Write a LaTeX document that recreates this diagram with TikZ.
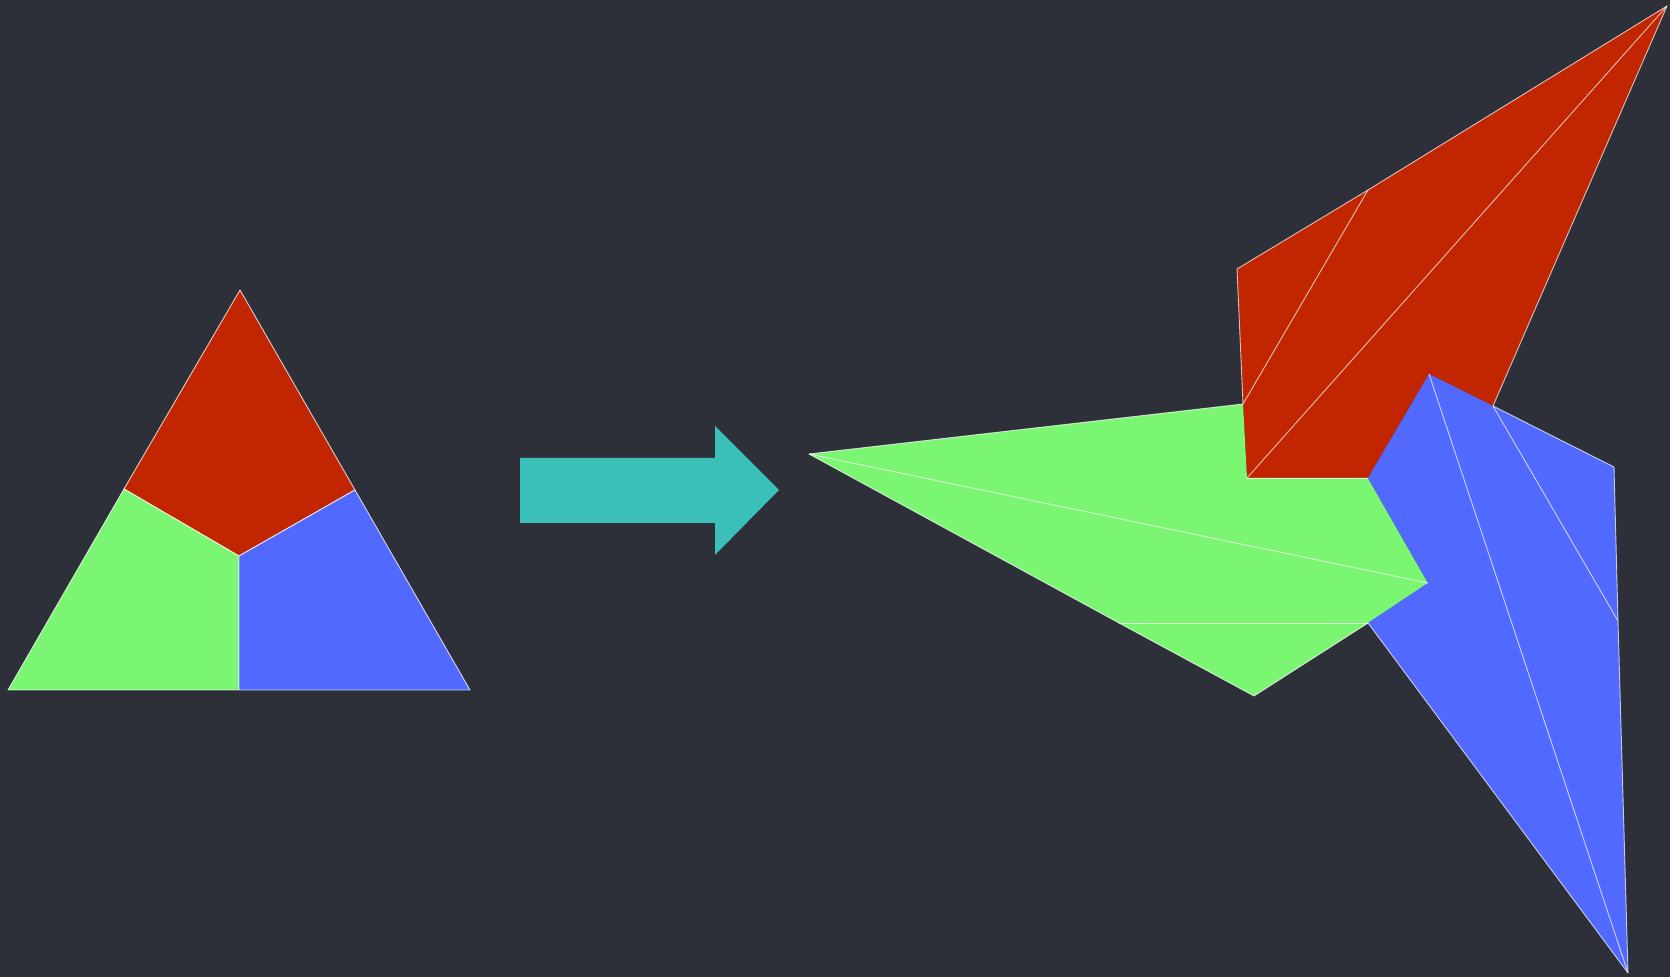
\documentclass[tikz,border=0pt]{standalone}
\begin{document}
\begin{tikzpicture}[x=0.5pt,y=-0.5pt,
  edge/.style={draw=white,draw opacity=0.75,line width=0.45pt,line join=round},
  redf/.style={fill=redc,edge},
  greenf/.style={fill=greenc,edge},
  bluef/.style={fill=bluec,edge},
  fold/.style={draw=white,draw opacity=0.7,line width=0.45pt,line join=round}]
\definecolor{bgc}{HTML}{2D3039}
\definecolor{redc}{HTML}{C22600}
\definecolor{greenc}{HTML}{7BF672}
\definecolor{bluec}{HTML}{5169FF}
\definecolor{arrowc}{HTML}{3AC0B8}
\fill[bgc] (0,0) rectangle (1670,977);
\useasboundingbox (0,0) rectangle (1670,977);
% left triangle
\coordinate (A) at (240,290);
\coordinate (BL) at (8,690);
\coordinate (BR) at (470,690);
\coordinate (C) at (239,556);
\coordinate (ML) at (124,489);
\coordinate (MR) at (355,490);
\coordinate (MB) at (239,690);
\path[redf] (A) -- (MR) -- (C) -- (ML) -- cycle;
\path[greenf] (ML) -- (C) -- (MB) -- (BL) -- cycle;
\path[bluef] (C) -- (MR) -- (BR) -- (MB) -- cycle;
% arrow
\fill[arrowc] (520,458) -- (715,458) -- (715,426) -- (779,490) -- (715,555) -- (715,523) -- (520,523) -- cycle;
% right figure
\coordinate (r1) at (1237,269);
\coordinate (r2) at (1368,190);
\coordinate (r3) at (1667,6);
\coordinate (r4) at (1493,406);
\coordinate (b1) at (1429,374);
\coordinate (p1) at (1368,478);
\coordinate (p2) at (1247,478);
\coordinate (p3) at (1243,404);
\coordinate (g1) at (809,454);
\coordinate (g2) at (1428,583);
\coordinate (g3) at (1368,623);
\coordinate (g4) at (1254,696);
\coordinate (g5) at (1119,623);
\coordinate (b2) at (1614,467);
\coordinate (b3) at (1618,621);
\coordinate (b4) at (1628,973);
\fill[redc] (r1) -- (r2) -- (r3) -- (r4) -- (b1) -- (p1) -- (p2) -- (p3) -- cycle;
\fill[greenc] (g1) -- (p3) -- (p2) -- (p1) -- (g2) -- (g3) -- (g4) -- (g5) -- cycle;
\fill[bluec] (b1) -- (r4) -- (b2) -- (b3) -- (b4) -- (g3) -- (g2) -- (p1) -- cycle;
% outline of the folded shape
\draw[fold] (g1) -- (p3) -- (r1) -- (r2) -- (r3) -- (r4);
\draw[fold] (r4) -- (b2) -- (b3) -- (b4) -- (g3) -- (g4) -- (g5) -- (g1);
\draw[fold] (p2) -- (p1);
% fold lines
\draw[fold] (p3) -- (r2);
\draw[fold] (p2) -- (r3);
\draw[fold] (g1) -- (g2);
\draw[fold] (g5) -- (g3);
\draw[fold] (b1) -- (b4);
\draw[fold] (r4) -- (b3);
\end{tikzpicture}
\end{document}
